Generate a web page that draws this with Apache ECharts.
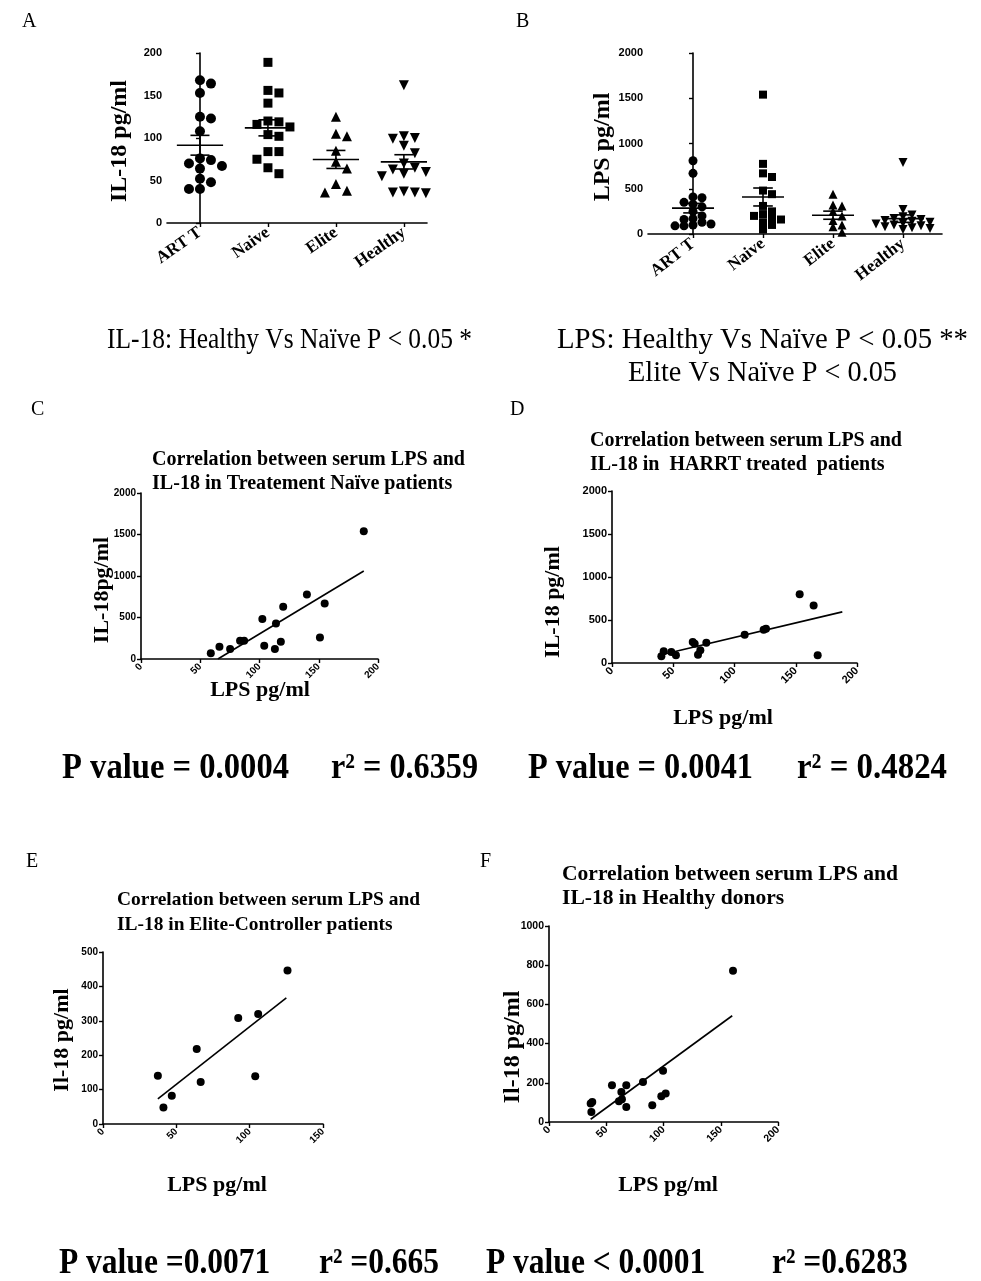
<!DOCTYPE html>
<html><head><meta charset="utf-8">
<script src="https://cdn.jsdelivr.net/npm/echarts@6/dist/echarts.min.js"></script>
<style>html,body{margin:0;padding:0;background:#fff}#c{width:981px;height:1281px}</style>
</head><body><div id="c"></div>
<script>
// ---- data ----
const groups = ['ART T', 'Naive', 'Elite', 'Healthy'];
const il18ArtT = [168,164,153,125,123,108,76,74,70,67,64,52,48,40,40];
const il18Naive = [189,156,153,141,120,119,116,113,104,102,84,84,75,65,58];
const il18Elite = [125,105,102,85,72,64,46,38,36];
const il18Healthy = [162,102,100,99,91,82,70,65,63,60,58,55,37,36,35,36];
const lpsArtT = [810,670,410,400,350,330,300,250,200,170,160,130,110,100,90,90];
const lpsNaive = [1540,775,670,630,480,440,310,250,220,200,180,160,130,100,50];
const lpsElite = [440,320,310,250,200,150,100,80,20];
const lpsHealthy = [790,270,210,190,170,160,150,140,130,120,110,100,90,80,70,60,50];
// correlation panels (x = LPS axis, y = IL-18 axis as labelled)
const cLps = [58.9,66.2,75.2,83.6,87,102.4,104,113.9,113,118,120,140,151,155,188];
const cIl18 = [68,148,120,220,220,481,160,429,120,208,629,778,260,670,1539];
const dLps = [40.3,42.2,48.4,52.2,65.9,67.5,70.2,72.1,77,108.3,123.8,125.7,153.2,164.6,167.9];
const dIl18 = [78,136,128,89,244,225,97,147,236,329,388,399,798,670,89];
const eLps = [37.4,41.2,46.9,63.9,66.6,92.2,103.8,105.8,125.8];
const eIl18 = [140,48,82,218,122,308,139,320,446];
const fLps = [36.4,37.8,37,55,61.1,63.2,63.7,67.5,67.5,82.1,90.2,98.1,99.6,101.9,160.7];
const fIl18 = [94,102,51,187,106,153,116,187,77,204,85,131,261,145,772];
const fitC = [58.9,188], fitD = [42,188], fitE = [37.4,125], fitF = [36.4,160];

// ---- helpers ----
const SERIF = '"Liberation Serif", "Times New Roman", serif';
const SANS = '"Liberation Sans", Arial, sans-serif';
function meanSem(v){const n=v.length;const m=v.reduce((a,b)=>a+b,0)/n;const sd=Math.sqrt(v.reduce((a,b)=>a+(b-m)*(b-m),0)/(n-1));return [m, sd/Math.sqrt(n)];}
function swarm(vals, gi, pxPerUnit, pxPerCat, coll, stepPx){
  const placed=[]; const step=stepPx/pxPerCat; const out=[];
  const order=vals.map((v,i)=>i).sort((a,b)=>vals[b]-vals[a]);
  for(const i of order){
    const v=vals[i]; let off=0;
    for(const k of [0,1,-1,2,-2,3,-3,4,-4]){
      const hit=placed.some(p=>p.k===k && Math.abs((p.v-v)*pxPerUnit)<coll);
      if(!hit){off=k;break;}
    }
    placed.push({k:off,v}); out.push([gi+off*step, v]);
  }
  return out;
}
function fit(xs, ys, range){
  const n=xs.length; const mx=xs.reduce((a,b)=>a+b,0)/n, my=ys.reduce((a,b)=>a+b,0)/n;
  let sxy=0,sxx=0; for(let i=0;i<n;i++){sxy+=(xs[i]-mx)*(ys[i]-my);sxx+=(xs[i]-mx)*(xs[i]-mx);}
  const b=sxy/sxx, a=my-b*mx;
  let x0=range[0]; if(a+b*x0<0) x0=-a/b;
  return [[x0,a+b*x0],[range[1],a+b*range[1]]];
}
const axLine={lineStyle:{color:'#000',width:1.6}};
const axTick={show:true,inside:false,length:4,lineStyle:{color:'#000',width:1.4}};
const plain=v=>String(v);
function yAx(gi,max,interval,fs){return {type:'value',gridIndex:gi,min:0,max,interval,axisLine:{show:true,...axLine},axisTick:axTick,splitLine:{show:false},axisLabel:{formatter:plain,color:'#000',fontWeight:'bold',fontFamily:SANS,fontSize:fs,margin:5}};}
function xAxVal(gi,max,interval,fs){return {type:'value',gridIndex:gi,min:0,max,interval,axisLine:{show:true,onZero:false,...axLine},axisTick:axTick,splitLine:{show:false},axisLabel:{formatter:plain,color:'#000',fontWeight:'bold',fontFamily:SANS,fontSize:fs,rotate:45,margin:6}};}
function xAxCat(gi,min,max,fs,rot){return {type:'value',gridIndex:gi,min,max,axisLine:{show:true,onZero:false,...axLine},
  axisTick:{...axTick,customValues:[0,1,2,3]},splitLine:{show:false},
  axisLabel:{customValues:[0,1,2,3],formatter:v=>groups[Math.round(v)],color:'#000',fontWeight:'bold',fontFamily:SERIF,fontSize:fs,rotate:rot,margin:8}};}

const symbols=['circle','rect','triangle','triangle'];
const rots=[0,0,0,180];
function dotSeries(gi, sets, pxPerUnit, pxPerCat, size, coll, stepPx, halfMean){
  const out=[];
  sets.forEach((vals,g)=>{
    out.push({type:'scatter',xAxisIndex:gi,yAxisIndex:gi,symbol:symbols[g],symbolRotate:rots[g],symbolSize:g===1?size-1:size,
      itemStyle:{color:'#000',opacity:1},data:swarm(vals,g,pxPerUnit,pxPerCat,coll,stepPx),z:2});
  });
  out.push({type:'custom',xAxisIndex:gi,yAxisIndex:gi,z:5,
    data:sets.map((v,g)=>{const [m,s]=meanSem(v);return [g,m,s];}),
    renderItem:(params,api)=>{
      const i=api.value(0),m=api.value(1),s=api.value(2);
      const st={stroke:'#000',lineWidth:1.6};
      const L=(x1,y1,x2,y2)=>{const a=api.coord([x1,y1]),b=api.coord([x2,y2]);return {type:'line',shape:{x1:a[0],y1:a[1],x2:b[0],y2:b[1]},style:st};};
      return {type:'group',children:[L(i-halfMean,m,i+halfMean,m),L(i,m-s,i,m+s),L(i-0.14,m+s,i+0.14,m+s),L(i-0.14,m-s,i+0.14,m-s)]};
    }});
  return out;
}
function corrSeries(gi, xs, ys, range, size){
  return [
    {type:'scatter',xAxisIndex:gi,yAxisIndex:gi,symbol:'circle',symbolSize:size,itemStyle:{color:'#000',opacity:1},data:xs.map((x,i)=>[x,ys[i]])},
    {type:'line',xAxisIndex:gi,yAxisIndex:gi,showSymbol:false,symbol:'none',lineStyle:{color:'#000',width:1.6},data:fit(xs,ys,range),z:3}
  ];
}
const mctx=document.createElement('canvas').getContext('2d');
function fontStr(size,bold){return (bold?'bold ':'')+size+'px '+SERIF;}
function txt(text,x,y,size,o={}){
  return {type:'text',x,y,rotation:o.rot||0,scaleX:o.sx||1,z:100,style:{text,fill:'#000',
    font:fontStr(size,o.bold),textAlign:o.align||'left',textVerticalAlign:'middle'}};
}
function fitScale(text,l,r,size,bold){mctx.font=fontStr(size,bold);return (r-l)/mctx.measureText(text).width;}
function fitTxt(text,l,r,cy,size,bold){return txt(text,l,cy,size,{bold,sx:fitScale(text,l,r,size,bold)});}
function title2(l1,l2,l,r,y1,y2,size){const s=fitScale(l1,l,r,size,true);return [txt(l1,l,y1,size,{bold:true,sx:s}),txt(l2,l,y2,size,{bold:true,sx:s})];}

const grids=[
  {left:167,top:53,width:260,height:170},
  {left:648,top:53,width:294,height:181},
  {left:141,top:493,width:237,height:166},
  {left:612,top:491,width:245,height:172},
  {left:103,top:952,width:220,height:172},
  {left:549,top:926,width:229,height:196}
].map(g=>({...g,outerBoundsMode:'none',containLabel:false}));

const option={
  backgroundColor:'#fff',
  animation:false,
  grid:grids,
  xAxis:[xAxCat(0,-0.485,3.34,17,35), xAxCat(1,-0.643,3.557,17,38),
    xAxVal(2,200,50,10), xAxVal(3,200,50,11), xAxVal(4,150,50,10), xAxVal(5,200,50,10.5)],
  yAxis:[yAx(0,200,50,11), yAx(1,2000,500,11), yAx(2,2000,500,10), yAx(3,2000,500,11), yAx(4,500,100,10), yAx(5,1000,200,10.5)],
  series:[
    ...dotSeries(0,[il18ArtT,il18Naive,il18Elite,il18Healthy],170/200,68,10,9,11,0.34),
    ...dotSeries(1,[lpsArtT,lpsNaive,lpsElite,lpsHealthy],181/2000,70,9,6,9,0.3),
    ...corrSeries(2,cLps,cIl18,fitC,8),
    ...corrSeries(3,dLps,dIl18,fitD,8),
    ...corrSeries(4,eLps,eIl18,fitE,8),
    ...corrSeries(5,fLps,fIl18,fitF,8)
  ],
  graphic:[
    txt('A',22,22,20), txt('B',516,22,20), txt('C',31,410,20), txt('D',510,410,20), txt('E',26,862,20), txt('F',480,862,20),
    txt('IL-18 pg/ml',120,141,24,{bold:true,rot:Math.PI/2,align:'center'}),
    txt('LPS pg/ml',603,147,24,{bold:true,rot:Math.PI/2,align:'center'}),
    fitTxt('IL-18: Healthy Vs Naïve P < 0.05 *',107,472,340,29,false),
    fitTxt('LPS: Healthy Vs Naïve P < 0.05 **',557,968,340,29,false),
    fitTxt('Elite Vs Naïve P < 0.05',628,897,373,29,false),
    ...title2('Correlation between serum LPS and','IL-18 in Treatement Naïve patients',152,465,460,484,20),
    ...title2('Correlation between serum LPS and','IL-18 in  HARRT treated  patients',590,902,441,465,20),
    txt('IL-18pg/ml',102,590,22,{bold:true,rot:Math.PI/2,align:'center'}),
    txt('IL-18 pg/ml',553,602,22,{bold:true,rot:Math.PI/2,align:'center'}),
    txt('LPS pg/ml',260,690,22,{bold:true,align:'center'}),
    txt('LPS pg/ml',723,718,22,{bold:true,align:'center'}),
    fitTxt('P value = 0.0004',62,289,769,35,true), fitTxt('r² = 0.6359',331,478,769,35,true),
    fitTxt('P value = 0.0041',528,753,769,35,true), fitTxt('r² = 0.4824',797,947,769,35,true),
    ...title2('Correlation between serum LPS and','IL-18 in Elite-Controller patients',117,420,900,925,19),
    ...title2('Correlation between serum LPS and','IL-18 in Healthy donors',562,898,875,899,21),
    txt('Il-18 pg/ml',62,1040,22,{bold:true,rot:Math.PI/2,align:'center'}),
    txt('Il-18 pg/ml',513,1047,24,{bold:true,rot:Math.PI/2,align:'center'}),
    txt('LPS pg/ml',217,1185,22,{bold:true,align:'center'}),
    txt('LPS pg/ml',668,1185,22,{bold:true,align:'center'}),
    txt('P value =0.0071',59,1264,35,{bold:true,sx:0.9}), txt('r² =0.665',319,1264,35,{bold:true,sx:0.9}),
    txt('P value < 0.0001',486,1264,35,{bold:true,sx:0.9}), txt('r² =0.6283',772,1264,35,{bold:true,sx:0.9})
  ]
};
const chart=echarts.init(document.getElementById('c'),null,{renderer:'canvas'});
chart.setOption(option);
</script></body></html>
